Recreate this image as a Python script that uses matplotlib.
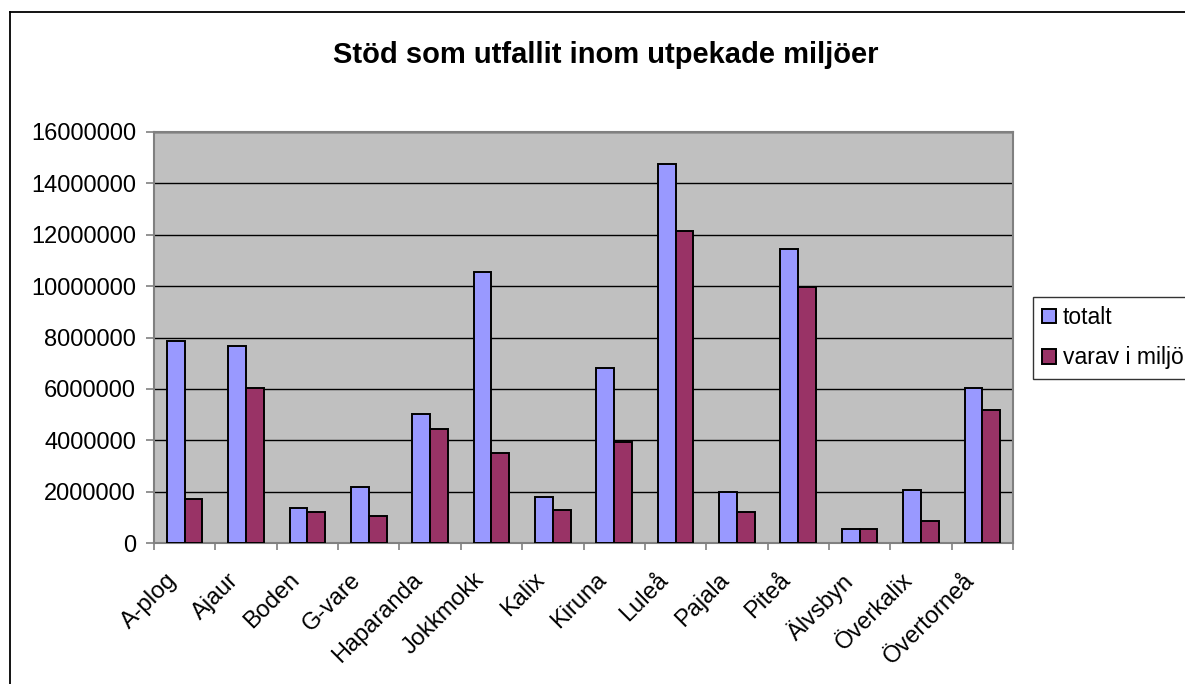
import numpy as np
import matplotlib.pyplot as plt
from matplotlib.lines import Line2D
from matplotlib.transforms import ScaledTranslation

plt.rcParams['font.family'] = ['Liberation Sans', 'DejaVu Sans']

# data
kommuner = ["A-plog", "Ajaur", "Boden", "G-vare", "Haparanda", "Jokkmokk", "Kalix",
            "Kiruna", "Luleå", "Pajala", "Piteå", "Älvsbyn", "Överkalix", "Övertorneå"]
totalt = [7870000, 7670000, 1360000, 2200000, 5030000, 10540000, 1800000,
          6830000, 14730000, 2010000, 11440000, 570000, 2090000, 6020000]
varav_miljo = [1720000, 6020000, 1230000, 1070000, 4460000, 3510000, 1300000,
               3950000, 12140000, 1230000, 9980000, 570000, 860000, 5180000]
series_names = ["totalt", "varav i miljö"]

W, H = 1185, 684
fig = plt.figure(figsize=(W / 100, H / 100), dpi=100)
ax = fig.add_axes([154 / W, 1 - 543.3 / H, (1013 - 154) / W, (543.3 - 131.7) / H])

x = np.arange(len(kommuner))
bw = 0.29
ax.bar(x - bw / 2, totalt, bw, color="#9999FF", edgecolor="black", linewidth=1.4,
       label=series_names[0], zorder=3)
ax.bar(x + bw / 2, varav_miljo, bw, color="#993366", edgecolor="black", linewidth=1.4,
       label=series_names[1], zorder=3)

ax.set_facecolor("#C0C0C0")
ax.set_xlim(-0.5, len(kommuner) - 0.5)
ax.set_ylim(0, 16000000)
yt = np.arange(0, 16000001, 2000000)
ax.set_yticks(yt)
ax.set_yticklabels([f"{int(v)}" for v in yt], fontsize=17)
ax.yaxis.grid(True, color="black", linewidth=1, zorder=0)
ax.set_axisbelow(True)

# category ticks on boundaries, labels at centres
ax.set_xticks(np.arange(-0.5, len(kommuner)), minor=False)
ax.set_xticklabels([])
ax.set_xticks(x, minor=True)
ax.set_xticklabels(kommuner, minor=True, rotation=45, ha="right", rotation_mode="anchor",
                   fontsize=17)
ax.tick_params(axis="x", which="minor", length=0, pad=12)
ax.tick_params(axis="x", which="major", length=5, color="#808080", width=1.2)
ax.tick_params(axis="y", length=6, color="#808080", width=1.2, pad=7)
shift = ScaledTranslation(-0.19, -0.09, fig.dpi_scale_trans)
for lab in ax.get_xticklabels(minor=True):
    lab.set_transform(lab.get_transform() + shift)

for s in ax.spines.values():
    s.set_color("#808080")
    s.set_linewidth(1.5)

fig.text(606 / W, 1 - 55 / H, "Stöd som utfallit inom utpekade miljöer",
         ha="center", va="center", fontsize=21, fontweight="bold")

leg = fig.legend(loc="upper left", bbox_to_anchor=(1033 / W, 1 - 297 / H), fontsize=16.5,
                 frameon=True, fancybox=False, edgecolor="black", handlelength=0.6,
                 handleheight=0.6, handletextpad=0.3, borderpad=0.4, labelspacing=0.75,
                 borderaxespad=0)
leg.get_frame().set_linewidth(1)

# outer chart frame (right and bottom edges fall outside the image)
fig.add_artist(Line2D([10 / W, 10 / W], [0, 1 - 12 / H], color="black", linewidth=1.3))
fig.add_artist(Line2D([10 / W, 1], [1 - 12 / H, 1 - 12 / H], color="black", linewidth=1.3))

fig.savefig("out.png", dpi=100)
